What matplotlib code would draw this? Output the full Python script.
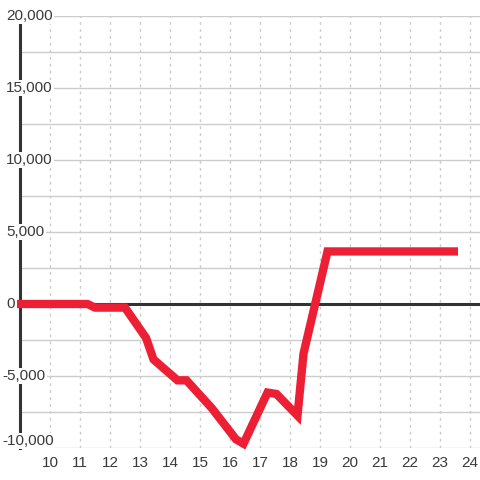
import matplotlib
matplotlib.use("Agg")
import matplotlib.pyplot as plt
import matplotlib.transforms as mtransforms

hours = [8.9, 11.25, 11.5, 12.5, 13.2, 13.45, 14.25, 14.55, 15.4, 16.2, 16.45,
         17.25, 17.55, 18.25, 18.45, 19.25, 23.6]
values = [0, 0, -250, -250, -2350, -3850, -5300, -5300, -7250, -9400, -9700,
          -6150, -6250, -7750, -3450, 3650, 3650]
xticks = list(range(10, 25))
yticks = [-10000, -5000, 0, 5000, 10000, 15000, 20000]
ylabels = ["-10,000", "-5,000", "0", "5,000", "10,000", "15,000", "20,000"]

plt.rcParams['font.family'] = ['Liberation Sans', 'DejaVu Sans']
fig = plt.figure(figsize=(4.8, 4.8), dpi=100)
ax = fig.add_axes([20/480, 32/480, 460/480, 432/480])
ax.set_xlim(9, 9 + 460/30)
ax.set_ylim(-10000, 20000)
for s in ['top', 'right', 'bottom']:
    ax.spines[s].set_visible(False)
ax.spines['left'].set_linewidth(2.2)
ax.spines['left'].set_color('#333333')
ax.spines['left'].set_zorder(1)

for y in range(-10000, 20001, 2500):
    if y == 0:
        continue
    ax.axhline(y, color='#cccccc', lw=1, zorder=0)
for x in xticks:
    ax.axvline(x, color='#cccccc', lw=1, ls=(0, (2, 3)), zorder=0)
ax.axhline(0, color='#333333', lw=2.2, zorder=2)

ax.set_xticks(xticks)
ax.set_xticklabels([str(t) for t in xticks])
ax.set_yticks([])
ax.tick_params(axis='x', length=0, pad=6, labelsize=11, labelcolor='#3a3a3a')

ytrans = mtransforms.blended_transform_factory(fig.transFigure, ax.transData)
for y, lab in zip(yticks, ylabels):
    xpos = 2/480 if lab.startswith('-') else 6/480
    va = 'bottom' if y == min(yticks) else 'center'
    ax.text(xpos, y, lab, transform=ytrans, ha='left', va=va,
            fontsize=11, color='#3a3a3a', zorder=3,
            bbox=dict(facecolor='white', edgecolor='none', pad=1))

ax.plot(hours, values, color='#ed1f35', lw=6, solid_joinstyle='miter',
        solid_capstyle='butt', zorder=4, clip_on=False)

fig.savefig('out.png', dpi=100)
